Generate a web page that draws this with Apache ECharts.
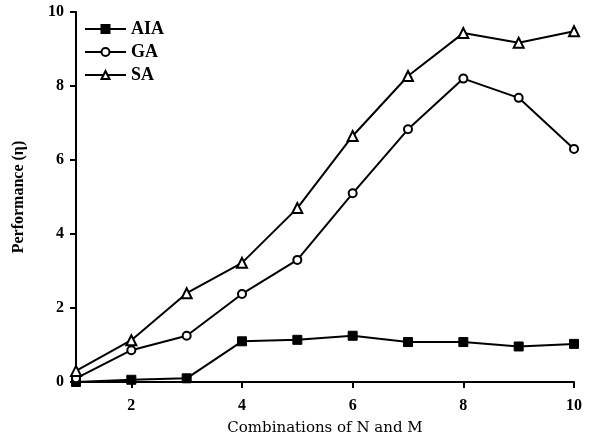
<!DOCTYPE html>
<html><head><meta charset="utf-8">
<script src="https://cdn.jsdelivr.net/npm/echarts@6/dist/echarts.min.js"></script>
<style>html,body{margin:0;padding:0;background:#fff}#c{width:591px;height:442px}</style>
</head><body><div id="c"></div>
<script>
const xs = [1,2,3,4,5,6,7,8,9,10];
const aia = [0.0,0.06,0.1,1.1,1.14,1.25,1.08,1.08,0.96,1.03];
const ga = [0.1,0.86,1.25,2.38,3.3,5.1,6.83,8.2,7.68,6.3];
const sa = [0.3,1.13,2.4,3.22,4.7,6.65,8.27,9.43,9.17,9.48];
const xTicks = [2,4,6,8,10];
const yTicks = [0,2,4,6,8,10];
const names = ['AIA','GA','SA'];
const xTitle = 'Combinations of N and M';
const yTitle = 'Performance (η)';

const font = 'Liberation Serif';
const pair = (arr) => xs.map((x,i)=>[x,arr[i]]);
const lineStyle = {color:'#000', width:2};
const chart = echarts.init(document.getElementById('c'), null, {renderer:'canvas'});
chart.setOption({
  animation:false,
  backgroundColor:'#fff',
  grid:{left:76,right:17,top:12,bottom:60},
  legend:{
    left:79, top:15, orient:'vertical', itemGap:5, itemWidth:41, itemHeight:10,
    textStyle:{fontFamily:font, fontSize:18, fontWeight:'bold', color:'#000'},
    data:names
  },
  xAxis:{
    type:'value', min:1, max:10,
    name:xTitle, nameLocation:'middle', nameGap:39,
    nameTextStyle:{fontFamily:'DejaVu Serif', fontSize:15, color:'#000'},
    axisLine:{lineStyle:{color:'#000', width:2}},
    axisTick:{show:true, customValues:xTicks, length:6, lineStyle:{color:'#000', width:2}},
    axisLabel:{customValues:xTicks, fontFamily:font, fontSize:16, fontWeight:'bold', color:'#000', margin:16},
    splitLine:{show:false}
  },
  yAxis:{
    type:'value', min:0, max:10, interval:2,
    name:yTitle, nameLocation:'middle', nameGap:49,
    nameTextStyle:{fontFamily:font, fontSize:16, fontWeight:'bold', color:'#000'},
    axisLine:{show:true, lineStyle:{color:'#000', width:2}},
    axisTick:{show:true, length:6, lineStyle:{color:'#000', width:2}},
    axisLabel:{customValues:yTicks, fontFamily:font, fontSize:16, fontWeight:'bold', color:'#000', margin:12},
    splitLine:{show:false}
  },
  series:[
    {name:'AIA', type:'line', data:pair(aia), symbol:'rect', symbolSize:9,
     lineStyle, itemStyle:{color:'#000', borderColor:'#000', borderWidth:1}, z:3},
    {name:'GA', type:'line', data:pair(ga), symbol:'circle', symbolSize:8,
     lineStyle, itemStyle:{color:'#fff', borderColor:'#000', borderWidth:2}, z:4},
    {name:'SA', type:'line', data:pair(sa), symbol:'triangle', symbolSize:10,
     lineStyle, itemStyle:{color:'#fff', borderColor:'#000', borderWidth:2}, z:5}
  ]
});
</script></body></html>
